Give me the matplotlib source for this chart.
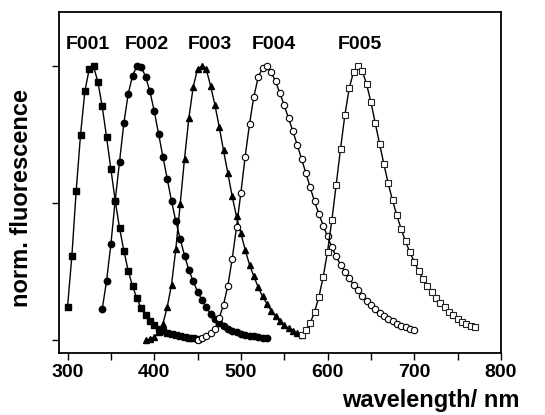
import numpy as np
import matplotlib
matplotlib.use("Agg")
import matplotlib.pyplot as plt

plt.rcParams['font.family'] = ['Liberation Sans', 'DejaVu Sans']
plt.rcParams['font.weight'] = 'bold'

# emission spectra, sampled every 5 nm
wl_f001 = np.arange(300, 451, 5)
fl_f001 = [0.122, 0.307, 0.546, 0.75, 0.909, 0.99, 1.0, 0.944, 0.854, 0.743,
           0.626, 0.51, 0.41, 0.327, 0.254, 0.198, 0.153, 0.117, 0.091, 0.071,
           0.055, 0.043, 0.034, 0.027, 0.022, 0.018, 0.014, 0.011, 0.009, 0.007,
           0.005]

wl_f002 = np.arange(340, 531, 5)
fl_f002 = [0.113, 0.216, 0.35, 0.51, 0.652, 0.793, 0.899, 0.966, 1.0, 0.998,
           0.963, 0.909, 0.838, 0.755, 0.671, 0.59, 0.508, 0.434, 0.37, 0.309,
           0.257, 0.215, 0.178, 0.148, 0.121, 0.097, 0.077, 0.062, 0.051, 0.042,
           0.035, 0.029, 0.024, 0.02, 0.017, 0.014, 0.012, 0.01, 0.009]

wl_f003 = np.arange(390, 571, 5)
fl_f003 = [0.0, 0.004, 0.012, 0.03, 0.06, 0.121, 0.203, 0.334, 0.497, 0.663,
           0.811, 0.925, 0.99, 1.0, 0.99, 0.93, 0.86, 0.78, 0.693, 0.61,
           0.525, 0.452, 0.391, 0.33, 0.276, 0.233, 0.194, 0.16, 0.134, 0.108,
           0.087, 0.069, 0.055, 0.044, 0.034, 0.026, 0.02]

wl_f004 = np.arange(450, 701, 5)
fl_f004 = [0.002, 0.008, 0.014, 0.026, 0.041, 0.081, 0.13, 0.2, 0.297, 0.413,
           0.538, 0.671, 0.79, 0.89, 0.96, 0.995, 1.0, 0.98, 0.945, 0.903,
           0.858, 0.811, 0.763, 0.714, 0.662, 0.611, 0.558, 0.507, 0.461, 0.419,
           0.379, 0.339, 0.306, 0.276, 0.251, 0.227, 0.203, 0.182, 0.163, 0.144,
           0.13, 0.114, 0.101, 0.089, 0.077, 0.069, 0.06, 0.053, 0.047, 0.042,
           0.037]

wl_f005 = np.arange(570, 771, 5)
fl_f005 = [0.02, 0.036, 0.063, 0.103, 0.158, 0.231, 0.324, 0.438, 0.568, 0.699,
           0.822, 0.92, 0.98, 1.0, 0.984, 0.936, 0.871, 0.794, 0.718, 0.644,
           0.573, 0.511, 0.456, 0.406, 0.361, 0.322, 0.287, 0.254, 0.225, 0.199,
           0.176, 0.154, 0.136, 0.12, 0.105, 0.091, 0.079, 0.068, 0.059, 0.053,
           0.047]

names = ["F001", "F002", "F003", "F004", "F005"]
label_x = [324, 391, 464, 538, 637]
label_y = 1.08

fig = plt.figure(figsize=(5.45, 4.15), dpi=100)
ax = fig.add_axes([0.108, 0.149, 0.811, 0.823])

ax.plot(wl_f001, fl_f001, "-s", color="black", lw=1, ms=4.0, mfc="black", mec="black")
ax.plot(wl_f002, fl_f002, "-o", color="black", lw=1, ms=4.6, mfc="black", mec="black")
ax.plot(wl_f003, fl_f003, "-^", color="black", lw=1, ms=5.0, mfc="black", mec="black")
ax.plot(wl_f004, fl_f004, "-o", color="black", lw=1, ms=4.6, mfc="white", mec="black", mew=0.8)
ax.plot(wl_f005, fl_f005, "-s", color="black", lw=1, ms=4.0, mfc="white", mec="#222222", mew=0.8)

for n, lx in zip(names, label_x):
    ax.text(lx, label_y, n, ha="center", va="center", fontsize=14, fontweight="bold")

ax.set_xlim(290, 800)
ax.set_ylim(-0.047, 1.2)
ax.set_xticks([300, 400, 500, 600, 700, 800])
ax.set_xticks([350, 450, 550, 650, 750], minor=True)
ax.set_yticks([0, 0.5, 1.0])
ax.set_yticklabels([])
ax.tick_params(axis="both", which="both", direction="out", length=5, width=1,
               labelsize=14, pad=3)
for lab in ax.get_xticklabels():
    lab.set_fontweight("bold")
for sp in ax.spines.values():
    sp.set_linewidth(1.3)

fig.text(22 / 545, 1 - 198 / 415, "norm. fluorescence", rotation=90,
         ha="center", va="center", fontsize=17, fontweight="bold")
fig.text(520 / 545, 1 - 400 / 415, "wavelength/ nm", ha="right", va="center",
         fontsize=17, fontweight="bold")

fig.savefig("out.png", dpi=100)
